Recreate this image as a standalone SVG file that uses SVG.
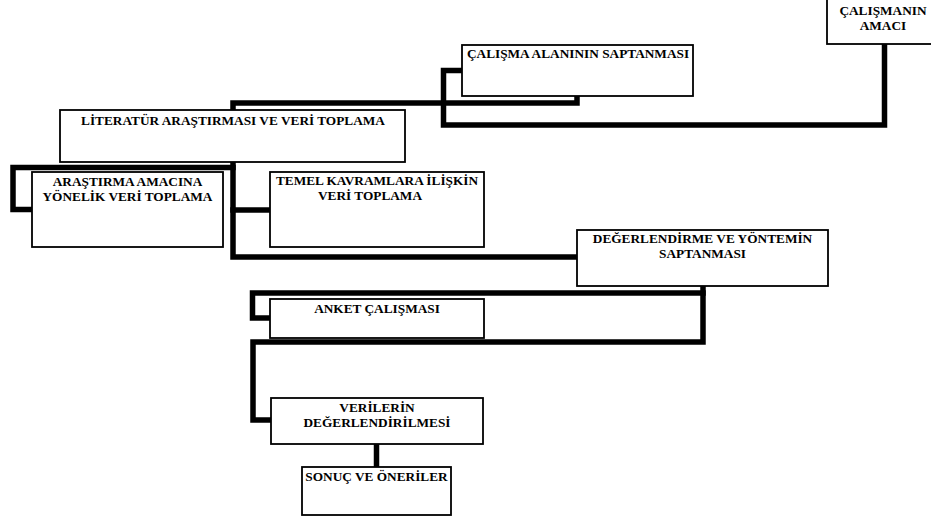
<svg xmlns="http://www.w3.org/2000/svg" width="931" height="519" viewBox="0 0 931 519">
<style>
.box{fill:#fff;stroke:#000;stroke-width:1.8}
.t{font-family:"Liberation Serif","Times New Roman",serif;font-weight:bold;font-size:13.3px;fill:#000;text-anchor:middle}
.c{fill:none;stroke:#000;stroke-width:5.5;stroke-linejoin:miter;stroke-linecap:square}
</style>
<rect width="931" height="519" fill="#fff"/>
<g id="connectors">
<path class="c" d="M884.5,46 V125 H443.5 V70.5 H460"/>
<path class="c" d="M577,98 V103 H233 V108"/>
<path class="c" d="M233,164 V257 H575"/>
<path class="c" d="M233,167.5 H13 V209.5 H30"/>
<path class="c" d="M233,210 H268"/>
<path class="c" d="M703,288 V342 H253 V420 H269"/>
<path class="c" d="M703,293 H252.5 V318 H268"/>
<path class="c" d="M376.5,446 V465"/>
</g>
<g id="n-calismanin-amaci">
<rect class="box" x="827" y="-10" width="120" height="54"/>
<text class="t" x="883" y="15">ÇALIŞMANIN</text>
<text class="t" x="883" y="30">AMACI</text>
</g>
<g id="n-calisma-alani">
<rect class="box" x="462" y="45" width="231" height="51"/>
<text class="t" x="578" y="58">ÇALIŞMA ALANININ SAPTANMASI</text>
</g>
<g id="n-literatur">
<rect class="box" x="60" y="110" width="345" height="52"/>
<text class="t" x="233" y="125">LİTERATÜR ARAŞTIRMASI VE VERİ TOPLAMA</text>
</g>
<g id="n-arastirma">
<rect class="box" x="32" y="172" width="191" height="75"/>
<text class="t" x="127.5" y="186">ARAŞTIRMA AMACINA</text>
<text class="t" x="127.5" y="201">YÖNELİK VERİ TOPLAMA</text>
</g>
<g id="n-temel">
<rect class="box" x="270" y="172" width="214" height="75"/>
<text class="t" x="377" y="185">TEMEL KAVRAMLARA İLİŞKİN</text>
<text class="t" x="370" y="200">VERİ TOPLAMA</text>
</g>
<g id="n-degerlendirme">
<rect class="box" x="577" y="230" width="251" height="56"/>
<text class="t" x="702.5" y="243">DEĞERLENDİRME VE YÖNTEMİN</text>
<text class="t" x="702.5" y="258">SAPTANMASI</text>
</g>
<g id="n-anket">
<rect class="box" x="270" y="299" width="214" height="39"/>
<text class="t" x="377" y="313">ANKET ÇALIŞMASI</text>
</g>
<g id="n-verilerin">
<rect class="box" x="271" y="398" width="212" height="46"/>
<text class="t" x="377" y="412">VERİLERİN</text>
<text class="t" x="377" y="427">DEĞERLENDİRİLMESİ</text>
</g>
<g id="n-sonuc">
<rect class="box" x="302" y="467" width="149" height="48"/>
<text class="t" x="376.5" y="481">SONUÇ VE ÖNERİLER</text>
</g>
</svg>
